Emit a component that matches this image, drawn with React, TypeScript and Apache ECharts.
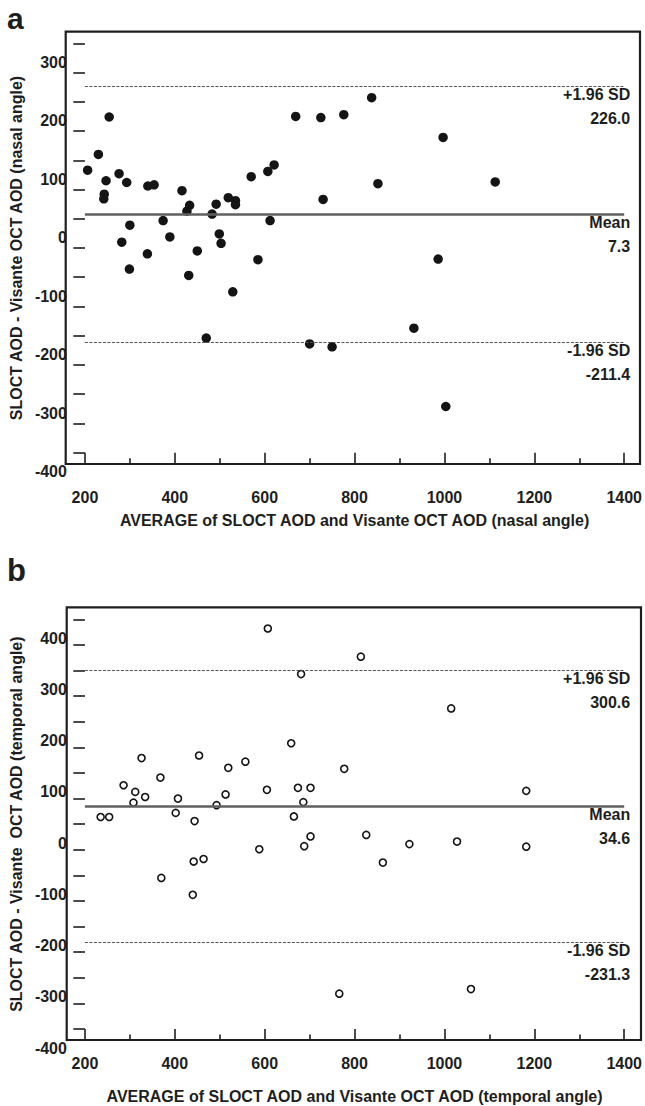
import React, { useEffect, useRef } from 'react';
import * as echarts from 'echarts';

const FONT = "'Liberation Sans', Arial, Helvetica, sans-serif";

// Panel a: nasal angle
const nasalAvg = [206, 230, 254, 247, 243, 242, 276, 293, 300, 282, 340, 354, 374, 389, 416, 433, 427, 483, 492, 450, 499, 503, 519, 535, 535, 570, 607, 621, 612, 669, 299, 339, 431, 529, 585, 470, 725, 776, 838, 997, 852, 730, 1113, 986, 932, 700, 750, 1003];
const nasalDiff = [83, 110, 174, 65, 42, 34, 77, 62, -11, -40, 56, 58, -3, -31, 48, 23, 13, 8, 25, -55, -26, -42, 36, 31, 24, 72, 81, 92, -3, 175, -86, -60, -97, -125, -70, -204, 173, 178, 207, 139, 60, 33, 63, -69, -187, -214, -219, -321];
const nasalLines = [226.0, 7.3, -211.4];

// Panel b: temporal angle
const temporalAvg = [607, 326, 286, 312, 308, 334, 368, 407, 402, 454, 444, 519, 513, 493, 557, 605, 659, 235, 254, 588, 442, 464, 370, 440, 814, 681, 1015, 777, 674, 702, 686, 1182, 665, 702, 688, 826, 863, 922, 1028, 1182, 766, 1059];
const temporalDiff = [382, 129, 76, 63, 42, 53, 91, 50, 22, 134, 6, 110, 58, 37, 122, 67, 158, 14, 14, -49, -73, -68, -105, -138, 327, 293, 226, 108, 71, 71, 43, 65, 15, -24, -43, -21, -75, -39, -34, -44, -331, -322];
const temporalLines = [300.6, 34.6, -231.3];

const lineNames = ['+1.96 SD', 'Mean', '-1.96 SD'];
const xRange = [200, 1400];
const nasalYRange = [-400, 300];
const temporalYRange = [-400, 400];

const INK = '#1e1e1e';

function panel(
  idx: number,
  avg: number[],
  diff: number[],
  lines: number[],
  yRange: number[],
  xTitle: string,
  yTitle: string,
  filled: boolean,
  labelMargin: number,
) {
  const tickStyle = { color: INK, width: 1.6 };
  const xAxis = {
    gridIndex: idx,
    type: 'value',
    min: xRange[0],
    max: xRange[1],
    interval: 200,
    offset: 11.3,
    axisLine: { show: false, onZero: false },
    axisTick: { show: true, inside: true, length: 11.3, lineStyle: tickStyle },
    minorTick: { show: true, splitNumber: 2, length: 5.7, lineStyle: tickStyle },
    splitLine: { show: false },
    minorSplitLine: { show: false },
    axisLabel: {
      margin: labelMargin,
      formatter: (v: number) => String(v),
      fontSize: 16,
      fontWeight: 'bold',
      color: INK,
      fontFamily: FONT,
    },
    name: xTitle,
    nameLocation: 'middle',
    nameGap: 48,
    nameTextStyle: { fontSize: 16, fontWeight: 'bold', color: INK, fontFamily: FONT },
  };
  const yAxis = {
    gridIndex: idx,
    type: 'value',
    min: yRange[0],
    max: yRange[1],
    interval: 50,
    axisLine: { show: false, onZero: false },
    axisTick: { show: true, inside: false, length: 11.6, lineStyle: tickStyle },
    splitLine: { show: false },
    axisLabel: {
      margin: 18,
      formatter: (v: number) => (v % 100 === 0 ? String(v) : ''),
      verticalAlign: 'top',
      padding: [11, 0, 0, 0],
      fontSize: 16,
      fontWeight: 'bold',
      color: INK,
      fontFamily: FONT,
    },
    name: yTitle,
    nameLocation: 'middle',
    nameGap: 50,
    nameRotate: 90,
    nameTextStyle: { fontSize: 16, fontWeight: 'bold', color: INK, fontFamily: FONT },
  };
  const series = {
    type: 'scatter',
    xAxisIndex: idx,
    yAxisIndex: idx,
    data: avg.map((x, i) => [x, diff[i]]),
    symbol: 'circle',
    symbolSize: filled ? 9.5 : 7,
    itemStyle: filled
      ? { color: '#141414', opacity: 1 }
      : { color: '#ffffff', borderColor: '#141414', borderWidth: 1.6, opacity: 1 },
    markLine: {
      silent: true,
      symbol: ['none', 'none'],
      animation: false,
      label: {
        show: true,
        position: 'insideEndBottom',
        fontSize: 16,
        fontWeight: 'bold',
        color: INK,
        fontFamily: FONT,
        lineHeight: 24,
        distance: [-6, -4.2],
      },
      data: lines.map((v, i) => ({
        yAxis: v,
        lineStyle:
          i === 1
            ? { color: '#606060', width: 2.6, type: 'solid' }
            : { color: '#555555', width: 1, type: [3, 1.5] },
        label: { formatter: `${lineNames[i]}\n${v.toFixed(1)}` },
      })),
    },
  };
  return { xAxis, yAxis, series };
}

export default function App() {
  const ref = useRef<HTMLDivElement>(null);
  useEffect(() => {
    if (!ref.current) return;
    const chart = echarts.init(ref.current, undefined, { renderer: 'svg' });
    const a = panel(0, nasalAvg, nasalDiff, nasalLines, nasalYRange,
      'AVERAGE of SLOCT AOD and Visante OCT AOD (nasal angle)',
      'SLOCT AOD - Visante OCT AOD (nasal angle)', true, 25);
    const b = panel(1, temporalAvg, temporalDiff, temporalLines, temporalYRange,
      'AVERAGE of SLOCT AOD and Visante OCT AOD (temporal angle)',
      'SLOCT AOD - Visante  OCT AOD (temporal angle)', false, 15);
    chart.setOption({
      animation: false,
      backgroundColor: '#ffffff',
      grid: [
        { left: 77.3, right: 645 - 627.5, top: 43.3, height: 409.4 },
        { left: 79, right: 645 - 630.2, top: 619.3, height: 409.7 },
      ],
      xAxis: [a.xAxis, b.xAxis],
      yAxis: [a.yAxis, b.yAxis],
      series: [a.series, b.series],
      graphic: [
        { type: 'rect', shape: { x: 65.7, y: 31.7, width: 640 - 65.7, height: 464 - 31.7 }, style: { fill: 'none', stroke: INK, lineWidth: 2.2 }, z: 10 },
        { type: 'rect', shape: { x: 66.7, y: 607.3, width: 641 - 66.7, height: 1040 - 607.3 }, style: { fill: 'none', stroke: INK, lineWidth: 2.2 }, z: 10 },
        { type: 'text', left: 7, top: 3, style: { text: 'a', fontSize: 30, fontWeight: 'bold', fill: INK, fontFamily: FONT } },
        { type: 'text', left: 7, top: 555, style: { text: 'b', fontSize: 31, fontWeight: 'bold', fill: INK, fontFamily: FONT } },
      ],
    });
    return () => chart.dispose();
  }, []);
  return (
    <div
      ref={ref}
      style={{ position: 'absolute', left: 0, top: 0, width: 645, height: 1106, background: '#fff' }}
    />
  );
}
